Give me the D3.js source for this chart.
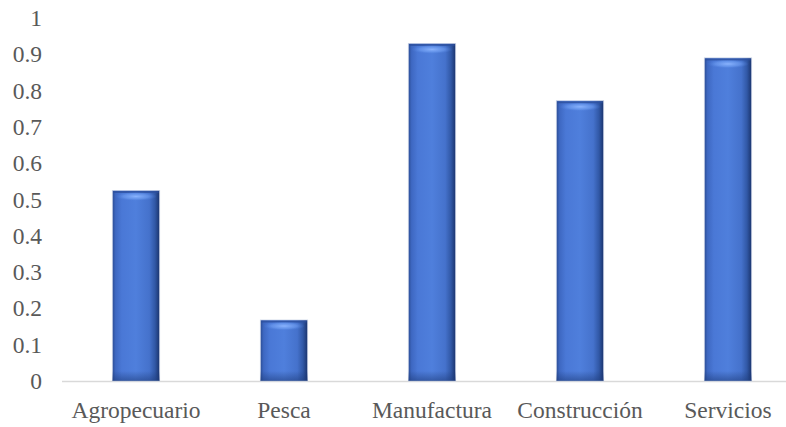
<!DOCTYPE html>
<html>
<head>
<meta charset="utf-8">
<script src="https://cdn.jsdelivr.net/npm/d3@7"></script>
<style>
  html, body { margin: 0; padding: 0; background: #fff; }
  svg { display: block; }
  text { font-family: "Liberation Serif", "Times New Roman", serif; fill: #595959; }
</style>
</head>
<body>
<svg id="chart" width="786" height="427"></svg>
<script>
// Sector categories and their values
const categories = ["Agropecuario", "Pesca", "Manufactura", "Construcción", "Servicios"];
const values = [0.525, 0.168, 0.93, 0.772, 0.89];
const yTicks = [0, 0.1, 0.2, 0.3, 0.4, 0.5, 0.6, 0.7, 0.8, 0.9, 1];
const yTickLabels = ["0", "0.1", "0.2", "0.3", "0.4", "0.5", "0.6", "0.7", "0.8", "0.9", "1"];

const svg = d3.select("#chart");
const W = 786, H = 427;
const plotLeft = 62, plotRight = 802, plotTop = 18, plotBottom = 381;
const fontSize = 23.5;

const x = d3.scaleBand().domain(categories).range([plotLeft, plotRight]).paddingInner(0.68).paddingOuter(0.34);
const y = d3.scaleLinear().domain([0, 1]).range([plotBottom, plotTop]);

const defs = svg.append("defs");
// horizontal shading giving each column a rounded, bevelled look
const hg = defs.append("linearGradient").attr("id", "barH").attr("x1", "0").attr("x2", "1").attr("y1", "0").attr("y2", "0");
[[0, "#2b4d94"], [0.07, "#3e68c2"], [0.2, "#4a78d6"], [0.5, "#4f7fdc"], [0.78, "#4572cc"], [0.9, "#3158a6"], [1, "#1a336b"]]
  .forEach(([o, c]) => hg.append("stop").attr("offset", o).attr("stop-color", c));
// soft glow used for the bevel at the top of each column
const rg = defs.append("radialGradient").attr("id", "barGlow").attr("cx", "0.5").attr("cy", "0.5").attr("r", "0.5");
[[0, "#8db6ff", 0.95], [0.6, "#6f9ef2", 0.6], [1, "#4f7fdc", 0]]
  .forEach(([o, c, a]) => rg.append("stop").attr("offset", o).attr("stop-color", c).attr("stop-opacity", a));
// darker foot of each column
const bg = defs.append("linearGradient").attr("id", "barBottom").attr("x1", "0").attr("x2", "0").attr("y1", "0").attr("y2", "1");
[[0, "#1d3a78", 0], [1, "#1d3a78", 0.55]]
  .forEach(([o, c, a]) => bg.append("stop").attr("offset", o).attr("stop-color", c).attr("stop-opacity", a));

// y-axis labels (no axis line, no gridlines)
const yAxis = d3.axisLeft(y).tickValues(yTicks).tickFormat((d, i) => yTickLabels[i]).tickSize(0).tickPadding(0);
const yg = svg.append("g").attr("transform", "translate(42,0)").call(yAxis);
yg.select(".domain").remove();
yg.selectAll("text").attr("font-size", fontSize).attr("fill", "#595959")
  .attr("font-family", "Liberation Serif, Times New Roman, serif");

// baseline
svg.append("line").attr("x1", plotLeft).attr("x2", W).attr("y1", plotBottom + 0.5).attr("y2", plotBottom + 0.5)
  .attr("stroke", "#d9d9d9").attr("stroke-width", 1.5);

// columns
const bw = x.bandwidth();
const bars = svg.append("g").selectAll("g").data(categories).join("g");
bars.append("rect")
  .attr("x", d => x(d)).attr("width", bw)
  .attr("y", (d, i) => y(values[i])).attr("height", (d, i) => plotBottom - y(values[i]))
  .attr("fill", "url(#barH)")
  .attr("stroke", "#c9d2e6").attr("stroke-width", 0.8);
// dark rim just under the top edge
bars.append("rect")
  .attr("x", d => x(d) + 1).attr("width", bw - 2)
  .attr("y", (d, i) => y(values[i]) + 0.5).attr("height", 2)
  .attr("fill", "#2c4f9c").attr("opacity", 0.8);
// curved light band of the bevel
bars.append("ellipse")
  .attr("cx", d => x(d) + bw / 2).attr("rx", bw * 0.44)
  .attr("cy", (d, i) => y(values[i]) + 6).attr("ry", 4.5)
  .attr("fill", "url(#barGlow)");
bars.append("rect")
  .attr("x", d => x(d)).attr("width", bw)
  .attr("y", plotBottom - 10).attr("height", 10)
  .attr("fill", "url(#barBottom)");

// x-axis category labels
const xAxis = d3.axisBottom(x).tickSize(0).tickPadding(0);
const xg = svg.append("g").attr("transform", `translate(0,${plotBottom + 29})`).call(xAxis);
xg.select(".domain").remove();
xg.selectAll("text").attr("font-size", fontSize).attr("fill", "#595959")
  .attr("font-family", "Liberation Serif, Times New Roman, serif").attr("dy", "0.32em");
</script>
</body>
</html>
